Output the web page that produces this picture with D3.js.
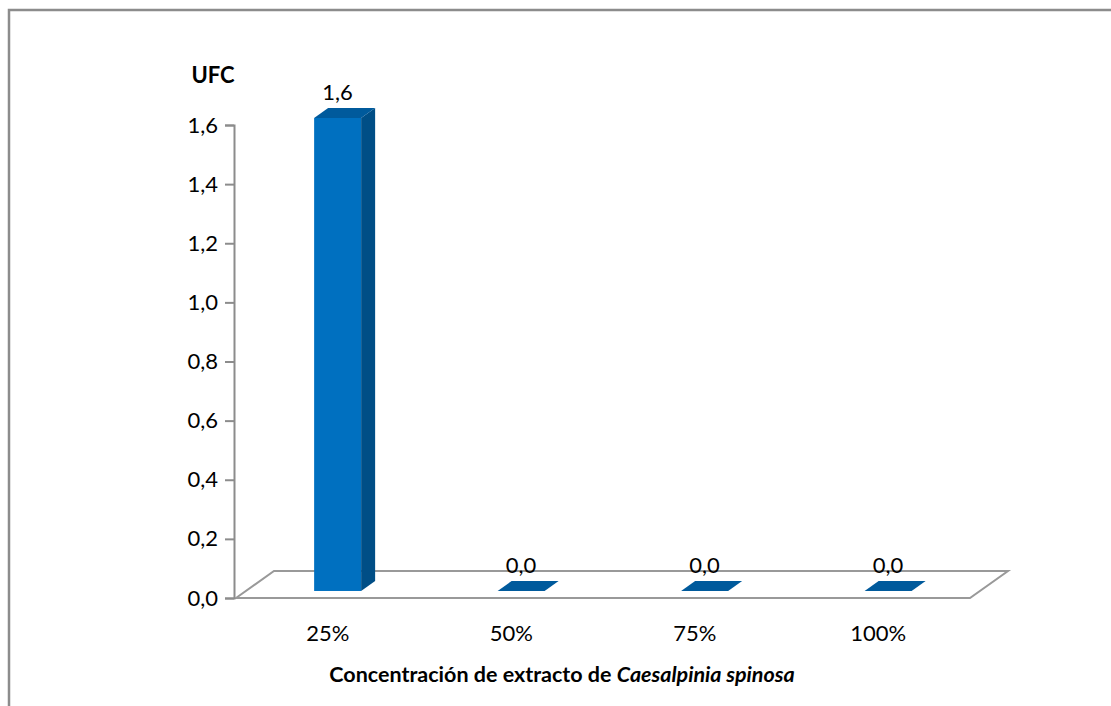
<!DOCTYPE html>
<html>
<head>
<meta charset="utf-8">
<script src="https://cdn.jsdelivr.net/npm/d3@7"></script>
<style>
  html, body { margin: 0; padding: 0; background: #fff; }
  svg { display: block; }
  text { font-family: "Lato", "Open Sans", sans-serif; fill: #000; }
</style>
</head>
<body>
<svg id="chart" width="1111" height="706"></svg>
<script>
// Data
const categories = ["25%", "50%", "75%", "100%"];
const ufcValues = [1.6, 0.0, 0.0, 0.0];
const yTicks = [0, 0.2, 0.4, 0.6, 0.8, 1.0, 1.2, 1.4, 1.6];

const svg = d3.select("#chart");
const fmt = v => d3.format(".1f")(v).replace(".", ",");
const labelSize = 22;

// Plot geometry (front plane of the 3-D floor)
const plotLeft = 236, plotRight = 970, plotBase = 598, plotTop = 125;
const depthDx = 38, depthDy = -27;      // floor depth offset
const barFront = 0.26;                  // bar front face depth fraction
const barDx = 14, barDy = -10;          // bar depth offset
const barWidth = 47;

const x = d3.scaleBand().domain(categories).range([plotLeft, plotRight]);
const y = d3.scaleLinear().domain([0, 1.6]).range([plotBase, plotTop]);

// Outer chart frame
svg.append("path")
  .attr("d", "M9,706 V10 H1111")
  .attr("fill", "none").attr("stroke", "#8c8c8c").attr("stroke-width", 2.5);

// Floor
const fx = barFront * depthDx, fy = barFront * depthDy;
svg.append("path")
  .attr("d", `M${plotLeft},${plotBase} L${plotLeft + depthDx},${plotBase + depthDy} L${plotRight + depthDx},${plotBase + depthDy} L${plotRight},${plotBase} Z`)
  .attr("fill", "none").attr("stroke", "#999").attr("stroke-width", 2);

// Y axis
const yAxis = d3.axisLeft(y).tickValues(yTicks).tickFormat(fmt).tickSize(9).tickPadding(7);
const gy = svg.append("g").attr("transform", `translate(${plotLeft - 2},0)`).call(yAxis);
gy.select(".domain").attr("stroke", "#8c8c8c").attr("stroke-width", 2);
gy.selectAll(".tick line").attr("stroke", "#8c8c8c").attr("stroke-width", 2);
gy.selectAll(".tick text").attr("font-size", labelSize).attr("font-family", "Lato").attr("fill", "#000");

// Bars
const bars = svg.append("g");
categories.forEach((c, i) => {
  const v = ufcValues[i];
  const cx = x(c) + x.bandwidth() / 2 + fx;
  const x0 = cx - barWidth / 2, x1 = cx + barWidth / 2;
  const yb = y(0) + fy, yt = y(v) + fy;
  if (v > 0) {
    bars.append("rect").attr("x", x0).attr("y", yt).attr("width", barWidth).attr("height", yb - yt)
      .attr("fill", "#0070C0");
    bars.append("path")
      .attr("d", `M${x1},${yt} L${x1 + barDx},${yt + barDy} L${x1 + barDx},${yb + barDy} L${x1},${yb} Z`)
      .attr("fill", "#004E86");
    bars.append("path")
      .attr("d", `M${x0},${yt} L${x0 + barDx},${yt + barDy} L${x1 + barDx},${yt + barDy} L${x1},${yt} Z`)
      .attr("fill", "#005A9C");
  } else {
    bars.append("path")
      .attr("d", `M${x0},${yb} L${x0 + barDx},${yb + barDy} L${x1 + barDx},${yb + barDy} L${x1},${yb} Z`)
      .attr("fill", "#005A9C");
  }
  svg.append("text")
    .attr("x", cx).attr("y", yt + barDy - 8)
    .attr("text-anchor", "middle").attr("font-size", labelSize)
    .text(fmt(v));
});

// Category labels
svg.append("g").selectAll("text").data(categories).join("text")
  .attr("x", d => x(d) + x.bandwidth() / 2)
  .attr("y", 641)
  .attr("text-anchor", "middle").attr("font-size", labelSize)
  .text(d => d);

// Axis titles
svg.append("text").attr("x", 213).attr("y", 83).attr("text-anchor", "middle")
  .attr("font-size", 22).attr("font-weight", "bold").text("UFC");

const title = svg.append("text").attr("x", 562).attr("y", 682).attr("text-anchor", "middle")
  .attr("font-size", 21.5).attr("font-weight", "bold");
title.append("tspan").text("Concentración de extracto de ");
title.append("tspan").attr("font-style", "italic").text("Caesalpinia spinosa");
</script>
</body>
</html>
